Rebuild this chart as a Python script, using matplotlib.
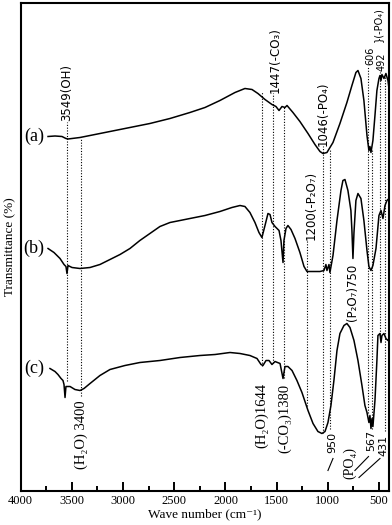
import numpy as np
import matplotlib
matplotlib.use("Agg")
import matplotlib.pyplot as plt

# espectros FTIR (numero de onda, transmitancia en u.a.)
wn_a = [3733, 3665, 3597, 3558, 3538, 3499, 3421, 3323, 3128, 2933, 2738, 2542, 2347,
        2200, 2054, 1907, 1810, 1741, 1683, 1614, 1546, 1507, 1477, 1448, 1419, 1399,
        1341, 1273, 1194, 1126, 1077, 1048, 1009, 950, 882, 814, 765, 726, 706, 677,
        648, 618, 599, 589, 579, 560, 540, 521, 501, 491, 481, 472, 452, 433, 413, 403]
t_a = [354, 354.5, 354, 352, 351.5, 352, 353, 355, 359, 363, 367, 372, 378,
       383, 390, 398, 402, 401, 397, 391, 386, 384, 380, 384, 383, 385,
       378, 369, 357, 346, 339, 337, 338, 348, 367, 388, 405, 418, 420, 412,
       390, 355, 340, 344, 338, 350, 375, 400, 412, 415, 410, 416, 412, 417, 410, 402]

wn_b = [3733, 3675, 3616, 3577, 3558, 3548, 3538, 3499, 3421, 3323, 3226, 3128, 3030,
        2933, 2836, 2738, 2640, 2542, 2444, 2347, 2200, 2054, 1937, 1858, 1810, 1761,
        1712, 1673, 1644, 1614, 1585, 1565, 1546, 1516, 1477, 1458, 1438, 1429, 1409,
        1390, 1360, 1321, 1273, 1233, 1204, 1126, 1077, 1038, 1019, 1009, 989, 980,
        950, 911, 872, 853, 833, 804, 775, 765, 755, 745, 726, 706, 677, 648, 618,
        599, 579, 560, 530, 501, 481, 462, 442, 423, 403]
t_b = [242, 238, 232, 226, 224, 217, 225, 223, 222, 223, 226, 231, 236,
       242, 250, 257, 264, 268, 270, 272, 275, 279, 283, 285, 284, 278,
       268, 258, 253, 265, 277, 276, 268, 264, 260, 250, 228, 250, 262,
       265, 261, 252, 238, 224, 219, 219, 219, 220, 226, 220, 226, 218,
       235, 270, 300, 310, 311, 300, 280, 260, 232, 258, 290, 297, 292, 270, 240,
       224, 220, 225, 242, 275, 280, 272, 285, 290, 292]

wn_c = [3714, 3665, 3636, 3606, 3587, 3577, 3567, 3558, 3518, 3470, 3421, 3382, 3323,
        3226, 3128, 2982, 2836, 2640, 2444, 2249, 2102, 1956, 1858, 1761, 1692, 1653,
        1634, 1604, 1575, 1546, 1516, 1467, 1438, 1419, 1390, 1350, 1302, 1253, 1194,
        1145, 1097, 1058, 1028, 999, 970, 941, 911, 882, 843, 814, 784, 745, 706,
        667, 638, 618, 599, 589, 579, 569, 560, 540, 521, 511, 491, 481, 472, 452,
        433, 413, 403]
t_c = [122, 119, 116, 112, 110, 106, 93, 104, 104, 101, 100, 102, 107,
       115, 121, 125, 128, 130, 133, 135, 136, 138, 137, 135, 132, 126,
       125, 130, 130, 126, 129, 127, 112, 124, 124, 120, 110, 98, 80,
       67, 59, 57, 59, 68, 85, 110, 140, 157, 165, 167, 163, 150, 130,
       105, 85, 78, 68, 75, 62, 72, 64, 90, 130, 155, 157, 148, 155, 157,
       152, 150, 152]

curvas = [("(a)", wn_a, t_a), ("(b)", wn_b, t_b), ("(c)", wn_c, t_c)]

# lineas punteadas de asignacion de bandas (posicion, extremo inferior, superior)
bandas_wn = [3548, 3411, 1644, 1533, 1426, 1051, 980, 1201, 605, 570, 489, 438]
bandas_y0 = [110, 95, 125, 128, 113, 58, 62, 85, 78, 62, 157, 60]
bandas_y1 = [368, 352, 398, 397, 384, 344, 340, 250, 423, 340, 418, 414]

serif = ["Liberation Serif", "DejaVu Serif"]
sans = ["DejaVu Sans"]

fig = plt.figure(figsize=(3.92, 5.25), dpi=100)
ax = fig.add_axes([0.0528, 0.0657, 0.9403, 0.9286])

for etiqueta, wn, t in curvas:
    ax.plot(wn, t, color="black", lw=1.1)
    ax.text(3770, t[0], etiqueta, fontsize=13, family=serif, ha="right", va="center")

for w, y0, y1 in zip(bandas_wn, bandas_y0, bandas_y1):
    ax.plot([w, w], [y0, y1], color="black", lw=0.8, ls=(0, (1, 1.5)))


def etiqueta_v(x, y, s, size=8.5, fam=sans):
    ax.text(x, y, s, rotation=90, ha="center", va="bottom", fontsize=size, family=fam)


# textos de asignacion
etiqueta_v(3549, 369, "3549(OH)")
etiqueta_v(1517, 397, "1447(-CO\u2083)")
etiqueta_v(1047, 344, "1046(-PO\u2084)")
etiqueta_v(1165, 250, "1200(-P\u2082O\u2087)")
etiqueta_v(582, 425, "606", size=7)
etiqueta_v(478, 419, "492", size=7)
etiqueta_v(512, 448, "}(-PO\u2084)", size=7)
etiqueta_v(3411, 22, "(H\u2082O) 3400", size=10.5, fam=serif)
etiqueta_v(1644, 43, "(H\u2082O)1644", size=10.5, fam=serif)
etiqueta_v(1419, 38, "(-CO\u2083)1380", size=10.5, fam=serif)
etiqueta_v(755, 170, "(P\u2082O\u2087)750")
etiqueta_v(959, 38, "950", size=8)
etiqueta_v(785, 12, "(PO\u2084)", size=10, fam=serif)
etiqueta_v(578, 40, "567", size=8)
etiqueta_v(455, 35, "431", size=8)
ax.plot([999, 950], [20, 32], color="black", lw=0.8)
ax.plot([736, 603], [20, 34], color="black", lw=0.8)
ax.plot([696, 491], [13, 32], color="black", lw=0.8)

ax.set_xlim(4000, 400)
ax.set_ylim(0, 487.5)
ax.set_xticks(np.arange(4000, 499, -500))
ax.set_xticks(np.arange(3750, 400, -500), minor=True)
ax.set_yticks([])
ax.tick_params(axis="x", which="major", direction="in", length=6.5, width=1.4, labelsize=9, pad=3)
ax.tick_params(axis="x", which="minor", direction="in", length=3.4, width=1.4)
for lab in ax.get_xticklabels():
    lab.set_family(serif)
for s in ax.spines.values():
    s.set_linewidth(1.5)

ax.set_xlabel("Wave number (cm\u207b\u00b9)", fontsize=9.5, family=serif, labelpad=1)
ax.set_ylabel("Transmittance (%)", fontsize=9.5, family=serif, labelpad=3)

fig.savefig("out.png", dpi=100)
